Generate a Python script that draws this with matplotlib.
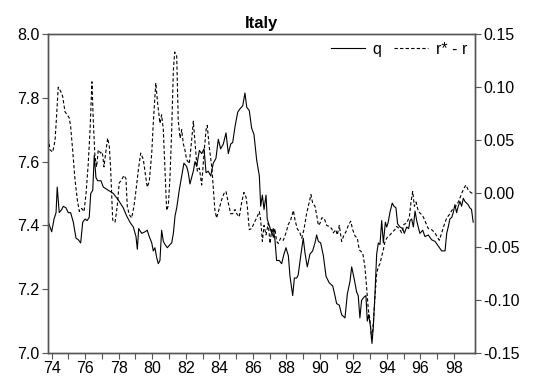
import numpy as np
import matplotlib
matplotlib.use('Agg')
import matplotlib.pyplot as plt

plt.rcParams['font.family'] = ['Liberation Sans', 'DejaVu Sans']
plt.rcParams['axes.unicode_minus'] = False

# real exchange rate q (left axis), by decimal year
q_year = [1973.80, 1974.00, 1974.14, 1974.26, 1974.33, 1974.45, 1974.60, 1974.69, 1974.85, 1974.99,
          1975.13, 1975.29, 1975.45, 1975.59, 1975.73, 1975.85, 1975.99, 1976.11, 1976.24, 1976.33,
          1976.45, 1976.54, 1976.64, 1976.74, 1976.94, 1977.08, 1977.38, 1977.68, 1977.97, 1978.27,
          1978.47, 1978.67, 1978.87, 1979.03, 1979.11, 1979.19, 1979.37, 1979.57, 1979.70, 1979.82,
          1979.97, 1980.06, 1980.16, 1980.26, 1980.36, 1980.46, 1980.56, 1980.66, 1980.76, 1980.90,
          1981.06, 1981.16, 1981.26, 1981.36, 1981.46, 1981.61, 1981.76, 1981.89, 1982.05, 1982.15,
          1982.25, 1982.45, 1982.55, 1982.65, 1982.81, 1982.95, 1983.09, 1983.21, 1983.34, 1983.49,
          1983.64, 1983.80, 1983.94, 1984.08, 1984.24, 1984.40, 1984.54, 1984.68, 1984.80, 1984.94,
          1985.10, 1985.23, 1985.40, 1985.53, 1985.64, 1985.79, 1985.93, 1986.07, 1986.23, 1986.39,
          1986.47, 1986.57, 1986.67, 1986.79, 1986.86, 1986.98, 1987.13, 1987.22, 1987.32, 1987.42,
          1987.58, 1987.72, 1987.86, 1987.98, 1988.12, 1988.22, 1988.38, 1988.48, 1988.62, 1988.71,
          1988.86, 1989.01, 1989.11, 1989.25, 1989.41, 1989.57, 1989.71, 1989.81, 1989.91, 1990.05,
          1990.21, 1990.37, 1990.56, 1990.77, 1990.90, 1991.00, 1991.16, 1991.30, 1991.50, 1991.64,
          1991.80, 1991.90, 1992.04, 1992.20, 1992.29, 1992.39, 1992.49, 1992.63, 1992.75, 1992.83,
          1992.91, 1993.03, 1993.11, 1993.19, 1993.29, 1993.39, 1993.49, 1993.59, 1993.69, 1993.79,
          1993.91, 1993.99, 1994.08, 1994.18, 1994.32, 1994.42, 1994.54, 1994.64, 1994.78, 1994.94,
          1995.04, 1995.18, 1995.30, 1995.38, 1995.48, 1995.58, 1995.68, 1995.78, 1995.87, 1995.97,
          1996.14, 1996.27, 1996.47, 1996.67, 1996.87, 1997.07, 1997.27, 1997.47, 1997.57, 1997.66,
          1997.76, 1997.87, 1997.96, 1998.06, 1998.16, 1998.26, 1998.36, 1998.46, 1998.56, 1998.66,
          1998.75, 1998.85, 1998.95, 1999.05, 1999.15]
q_vals = [7.41, 7.38, 7.42, 7.44, 7.52, 7.44, 7.45, 7.46, 7.455, 7.44,
          7.44, 7.41, 7.36, 7.355, 7.345, 7.41, 7.42, 7.415, 7.425, 7.50,
          7.51, 7.62, 7.55, 7.54, 7.54, 7.52, 7.51, 7.50, 7.48, 7.455,
          7.43, 7.41, 7.395, 7.365, 7.325, 7.39, 7.375, 7.38, 7.385, 7.365,
          7.345, 7.32, 7.33, 7.30, 7.28, 7.29, 7.385, 7.35, 7.34, 7.33,
          7.34, 7.345, 7.375, 7.43, 7.455, 7.51, 7.555, 7.595, 7.585, 7.565,
          7.53, 7.57, 7.60, 7.585, 7.635, 7.625, 7.64, 7.565, 7.57, 7.555,
          7.595, 7.61, 7.67, 7.64, 7.655, 7.69, 7.625, 7.655, 7.66, 7.71,
          7.755, 7.765, 7.775, 7.815, 7.77, 7.76, 7.705, 7.685, 7.605, 7.555,
          7.46, 7.495, 7.45, 7.495, 7.42, 7.40, 7.375, 7.39, 7.355, 7.29,
          7.29, 7.28, 7.31, 7.33, 7.305, 7.24, 7.18, 7.235, 7.235, 7.245,
          7.305, 7.36, 7.315, 7.27, 7.31, 7.32, 7.345, 7.37, 7.35, 7.345,
          7.305, 7.24, 7.22, 7.21, 7.18, 7.155, 7.15, 7.12, 7.11, 7.185,
          7.225, 7.27, 7.235, 7.19, 7.18, 7.11, 7.165, 7.175, 7.18, 7.10,
          7.12, 7.08, 7.03, 7.08, 7.185, 7.31, 7.345, 7.34, 7.415, 7.345,
          7.41, 7.395, 7.41, 7.44, 7.47, 7.46, 7.455, 7.405, 7.395, 7.39,
          7.375, 7.395, 7.39, 7.415, 7.42, 7.395, 7.445, 7.415, 7.395, 7.375,
          7.385, 7.365, 7.37, 7.355, 7.35, 7.335, 7.32, 7.32, 7.375, 7.395,
          7.42, 7.425, 7.44, 7.465, 7.44, 7.46, 7.475, 7.46, 7.485, 7.475,
          7.47, 7.465, 7.455, 7.45, 7.41]

# interest differential r* - r (right axis)
r_year = [1973.80, 1973.90, 1974.06, 1974.20, 1974.30, 1974.39, 1974.54, 1974.66, 1974.79, 1974.93,
          1975.05, 1975.13, 1975.25, 1975.39, 1975.53, 1975.65, 1975.79, 1975.93, 1976.05, 1976.18,
          1976.29, 1976.40, 1976.48, 1976.58, 1976.68, 1976.78, 1976.92, 1977.02, 1977.12, 1977.22,
          1977.34, 1977.44, 1977.52, 1977.64, 1977.78, 1977.91, 1978.03, 1978.18, 1978.31, 1978.43,
          1978.51, 1978.63, 1978.77, 1978.91, 1979.03, 1979.17, 1979.31, 1979.47, 1979.58, 1979.70,
          1979.82, 1979.97, 1980.06, 1980.21, 1980.32, 1980.46, 1980.56, 1980.66, 1980.76, 1980.86,
          1980.96, 1981.06, 1981.16, 1981.26, 1981.34, 1981.46, 1981.55, 1981.66, 1981.76, 1981.85,
          1981.95, 1982.05, 1982.21, 1982.35, 1982.45, 1982.57, 1982.69, 1982.81, 1982.95, 1983.09,
          1983.21, 1983.28, 1983.40, 1983.55, 1983.64, 1983.74, 1983.84, 1984.00, 1984.14, 1984.28,
          1984.40, 1984.54, 1984.68, 1984.80, 1984.94, 1985.04, 1985.19, 1985.34, 1985.47, 1985.59,
          1985.67, 1985.79, 1985.93, 1986.07, 1986.23, 1986.39, 1986.47, 1986.57, 1986.67, 1986.79,
          1986.92, 1987.03, 1987.13, 1987.22, 1987.32, 1987.42, 1987.52, 1987.66, 1987.82, 1987.98,
          1988.12, 1988.26, 1988.42, 1988.52, 1988.65, 1988.81, 1988.92, 1989.05, 1989.21, 1989.37,
          1989.47, 1989.57, 1989.71, 1989.81, 1989.91, 1990.01, 1990.11, 1990.25, 1990.41, 1990.56,
          1990.71, 1990.80, 1990.95, 1991.04, 1991.16, 1991.30, 1991.44, 1991.56, 1991.70, 1991.84,
          1991.96, 1992.10, 1992.24, 1992.35, 1992.56, 1992.69, 1992.79, 1992.89, 1992.99, 1993.09,
          1993.19, 1993.29, 1993.39, 1993.49, 1993.59, 1993.69, 1993.79, 1993.89, 1994.03, 1994.18,
          1994.35, 1994.48, 1994.58, 1994.74, 1994.88, 1995.02, 1995.18, 1995.34, 1995.44, 1995.54,
          1995.64, 1995.74, 1995.88, 1996.02, 1996.17, 1996.33, 1996.47, 1996.67, 1996.87, 1997.01,
          1997.13, 1997.27, 1997.41, 1997.57, 1997.72, 1997.87, 1998.00, 1998.16, 1998.32, 1998.46,
          1998.60, 1998.72, 1998.86, 1999.00, 1999.12]
r_vals = [0.052, 0.041, 0.039, 0.050, 0.075, 0.100, 0.096, 0.091, 0.077, 0.074,
          0.071, 0.063, 0.041, 0.013, -0.006, -0.017, -0.014, -0.017, 0.000, 0.028,
          0.060, 0.105, 0.069, 0.035, 0.025, 0.041, 0.038, 0.039, 0.025, 0.038,
          0.052, 0.044, 0.022, -0.025, -0.027, -0.012, 0.010, 0.013, 0.017, 0.014,
          -0.012, -0.020, -0.023, -0.012, 0.003, 0.022, 0.038, 0.032, 0.019, 0.006,
          0.011, 0.038, 0.066, 0.104, 0.085, 0.066, 0.074, 0.060, 0.022, -0.016,
          -0.011, 0.016, 0.060, 0.116, 0.133, 0.129, 0.069, 0.052, 0.060, 0.047,
          0.041, 0.032, 0.028, 0.050, 0.068, 0.044, 0.021, 0.024, 0.008, 0.038,
          0.060, 0.064, 0.044, 0.025, 0.006, -0.016, -0.023, -0.014, -0.006, 0.000,
          0.002, -0.009, -0.019, -0.019, -0.015, -0.019, -0.022, -0.008, 0.001, -0.003,
          -0.012, -0.034, -0.033, -0.028, -0.023, -0.017, -0.025, -0.045, -0.030, -0.039,
          -0.028, -0.047, -0.034, -0.042, -0.033, -0.045, -0.047, -0.042, -0.044, -0.037,
          -0.029, -0.025, -0.016, -0.025, -0.033, -0.037, -0.042, -0.034, -0.019, -0.008,
          -0.001, -0.009, -0.012, -0.020, -0.030, -0.028, -0.023, -0.023, -0.030, -0.031,
          -0.033, -0.037, -0.034, -0.039, -0.030, -0.045, -0.039, -0.036, -0.030, -0.026,
          -0.034, -0.040, -0.042, -0.053, -0.056, -0.069, -0.088, -0.109, -0.119, -0.138,
          -0.122, -0.097, -0.075, -0.069, -0.066, -0.059, -0.053, -0.045, -0.041, -0.039,
          -0.036, -0.034, -0.031, -0.033, -0.037, -0.029, -0.028, -0.022, -0.008, 0.002,
          -0.012, -0.008, -0.017, -0.019, -0.022, -0.028, -0.033, -0.034, -0.037, -0.041,
          -0.044, -0.037, -0.030, -0.023, -0.020, -0.016, -0.014, -0.011, -0.006, 0.000,
          0.005, 0.008, 0.003, 0.001, 0.000]

left_ticks = [7.0, 7.2, 7.4, 7.6, 7.8, 8.0]
right_ticks = [-0.15, -0.10, -0.05, 0.00, 0.05, 0.10, 0.15]
years = np.arange(1974, 1999)
label_years = np.arange(1974, 1999, 2)

fig = plt.figure(figsize=(5.37, 3.88), dpi=100)
ax = fig.add_axes([0.0894, 0.0902, 0.7952, 0.8222])
ax2 = ax.twinx()

spine_col = '#555555'
l1, = ax.plot(q_year, q_vals, color='black', lw=0.8, label='q')
l2, = ax2.plot(r_year, r_vals, color='black', lw=0.8, ls=(0, (3, 2)), label='r* - r')

ax.set_xlim(1973.78, 1999.26)
ax.set_ylim(7.0, 8.0)
ax2.set_ylim(-0.15, 0.15)

ax.set_yticks(left_ticks)
ax.set_yticklabels([f'{v:.1f}' for v in left_ticks])
ax2.set_yticks(right_ticks)
ax2.set_yticklabels([f'{v:.2f}' for v in right_ticks])
ax.set_xticks(years)
ax.set_xticklabels([f'{y % 100:02d}' if y in label_years else '' for y in years])

for a in (ax, ax2):
    for s in a.spines.values():
        s.set_color(spine_col)
        s.set_linewidth(1.0)
    a.tick_params(direction='out', length=4, width=0.8, color=spine_col,
                  labelsize=11.5, pad=2)
ax.tick_params(axis='x', length=4, pad=2)

ax.set_title('Italy', fontsize=12, fontweight='bold', pad=4)

ax.legend(handles=[l1, l2], loc='upper right', frameon=False, ncol=2,
          fontsize=11.5, handlelength=2.1, columnspacing=0.8, handletextpad=0.5,
          borderaxespad=0.1)

fig.savefig('out.png', dpi=100)
